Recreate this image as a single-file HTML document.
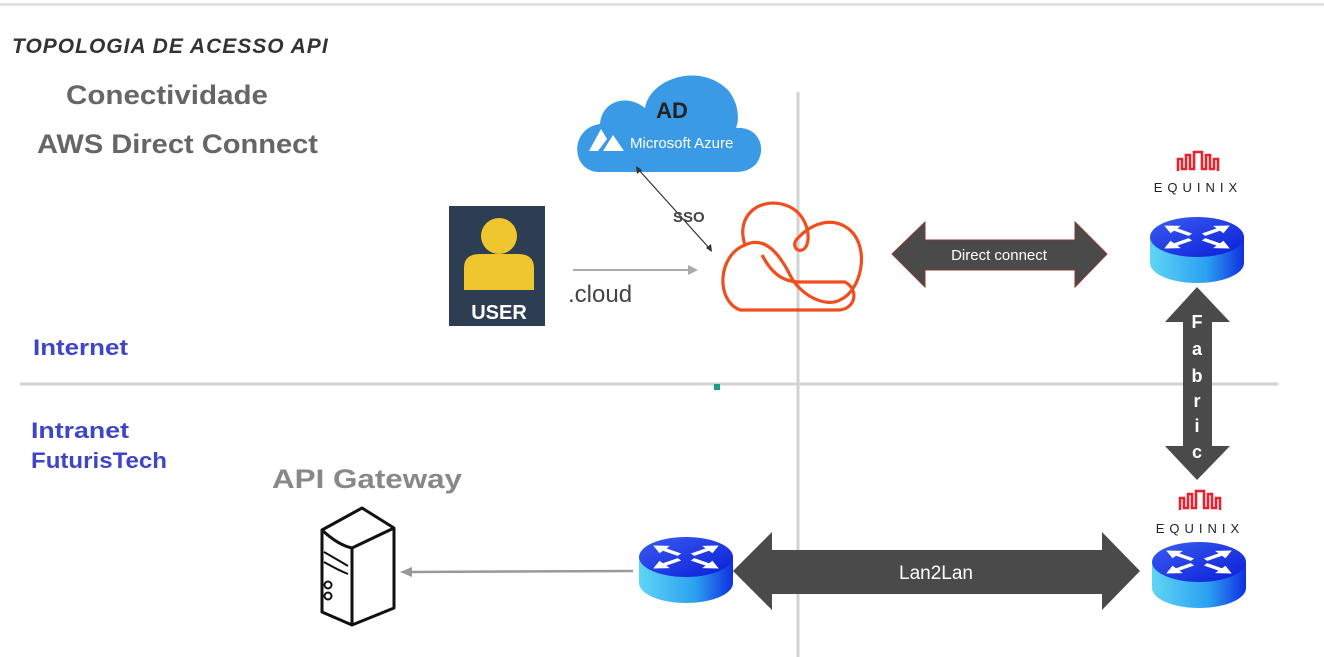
<!DOCTYPE html>
<html><head><meta charset="utf-8"><style>
html,body{margin:0;padding:0;background:#fff;}
svg{display:block;}
text{font-family:"Liberation Sans","DejaVu Sans",sans-serif;}
</style></head><body>
<svg width="1324" height="657" viewBox="0 0 1324 657" xmlns="http://www.w3.org/2000/svg">
<defs>
<linearGradient id="rtop" x1="0" y1="0" x2="1" y2="1">
<stop offset="0" stop-color="#3a5cf0"/><stop offset="1" stop-color="#0a1ed8"/></linearGradient>
<linearGradient id="rside" x1="0" y1="0" x2="1" y2="0">
<stop offset="0" stop-color="#5fd6f5"/><stop offset="0.6" stop-color="#2aa0f0"/><stop offset="1" stop-color="#1030e0"/></linearGradient>
<path id="rarr" d="M8,-3 L26,-3 L26,-9 L40,0 L26,9 L26,3 L8,3 Z" fill="#fff"/>
<g id="router">
<path d="M-47,0 L-47,26 A47,20 0 0 0 47,26 L47,0 Z" fill="url(#rside)"/>
<ellipse cx="0" cy="0" rx="47" ry="20" fill="url(#rtop)"/>
<g transform="scale(1,0.5)">
<use href="#rarr" transform="rotate(-35)"/>
<use href="#rarr" transform="rotate(-145)"/>
<use href="#rarr" transform="rotate(35)"/>
<use href="#rarr" transform="rotate(145)"/>
</g>
</g>
<g id="eqlogo">
<path d="M-20,8 L-20,-4 L-16,-4 L-16,6 L-12,6 L-12,-8 L-8,-8 L-8,6 L-4,6 L-4,-11 L4,-11 L4,6 L8,6 L8,-8 L12,-8 L12,6 L16,6 L16,-4 L20,-4 L20,8" fill="none" stroke="#e8212e" stroke-width="2.6"/>
</g>
</defs>
<rect x="0" y="0" width="1324" height="657" fill="#fff"/>
<line x1="0" y1="4.5" x2="1324" y2="4.5" stroke="#e3e3e3" stroke-width="3"/>
<line x1="798" y1="92" x2="798" y2="657" stroke="#d2d2d2" stroke-width="3"/>
<line x1="20" y1="384" x2="1278" y2="384" stroke="#d2d2d2" stroke-width="3"/>
<rect x="714" y="384" width="6" height="6" fill="#1aa080"/>
<text x="12" y="53" font-size="21" font-weight="bold" font-style="italic" fill="#333" letter-spacing="1">TOPOLOGIA DE ACESSO API</text>
<text x="66" y="104" font-size="27" font-weight="bold" fill="#666" textLength="202" lengthAdjust="spacingAndGlyphs">Conectividade</text>
<text x="37" y="153" font-size="27" font-weight="bold" fill="#666" textLength="281" lengthAdjust="spacingAndGlyphs">AWS Direct Connect</text>
<text x="33" y="355" font-size="22" font-weight="bold" fill="#3f45c8" textLength="95" lengthAdjust="spacingAndGlyphs">Internet</text>
<text x="31" y="438" font-size="22" font-weight="bold" fill="#3f45c8" textLength="98" lengthAdjust="spacingAndGlyphs">Intranet</text>
<text x="31" y="468" font-size="22" font-weight="bold" fill="#3f45c8" textLength="136" lengthAdjust="spacingAndGlyphs">FuturisTech</text>
<text x="272" y="488" font-size="27" font-weight="bold" fill="#888" textLength="190" lengthAdjust="spacingAndGlyphs">API Gateway</text>
<path d="M598,172 C570,170 570,128 600,124 C602,100 628,94 645,108 C650,78 700,62 728,90 C738,102 740,118 736,128 C758,126 768,148 756,164 C750,170 744,172 735,172 Z" fill="#3a9ae6"/>
<text x="672" y="118" font-size="22" font-weight="bold" fill="#222" text-anchor="middle">AD</text>
<path d="M589,151 L601,129 L607,139 L598,151 Z M603,151 L613,135 L624,151 Z" fill="#fff"/>
<text x="630" y="148" font-size="15" fill="#fff">Microsoft Azure</text>
<line x1="638" y1="169" x2="710" y2="249" stroke="#333" stroke-width="1.2"/>
<path d="M636,166 L637,174 L642,170 Z M712,252 L711,244 L706,248 Z" fill="#333"/>
<text x="673" y="222" font-size="15" font-weight="bold" fill="#444">SSO</text>
<rect x="449" y="206" width="96" height="120" fill="#2d3d52"/>
<circle cx="499" cy="236" r="18" fill="#f0c62e"/>
<path d="M464,290 L464,268 Q464,254 480,254 L518,254 Q534,254 534,268 L534,290 Z" fill="#f0c62e"/>
<text x="499" y="319" font-size="20" font-weight="bold" fill="#fff" text-anchor="middle">USER</text>
<line x1="573" y1="270" x2="690" y2="270" stroke="#aaa" stroke-width="2"/>
<path d="M698,270 L688,265 L688,275 Z" fill="#aaa"/>
<text x="568" y="302" font-size="24" fill="#444">.cloud</text>
<g fill="none" stroke="#f04e1e" stroke-width="3.2">
<path d="M745,245 C735,215 760,197 785,205 C808,212 812,240 805,248 C798,255 790,245 798,238 C805,230 828,212 850,230 C870,248 862,290 840,300 C825,308 800,295 790,275 C780,255 765,235 745,245 C718,255 715,300 740,310 L838,310 C855,310 860,290 845,282 L800,282 C780,282 770,270 762,255"/>
</g>
<path d="M892,254 L925,222 L925,240 L1075,240 L1075,222 L1107,254 L1075,287 L1075,270 L925,270 L925,287 Z" fill="#4a4a4a" stroke="#8a3a30" stroke-width="1"/>
<text x="999" y="260" font-size="15" fill="#fff" text-anchor="middle">Direct connect</text>
<use href="#eqlogo" x="1198" y="163"/>
<text x="1198" y="192" font-size="13" fill="#222" text-anchor="middle" letter-spacing="5">EQUINIX</text>
<use href="#router" x="1197" y="237"/>
<path d="M1197,287 L1230,322 L1212,322 L1212,446 L1230,446 L1197,480 L1165,446 L1183,446 L1183,322 L1165,322 Z" fill="#4a4a4a"/>
<g font-size="18" font-weight="bold" fill="#fff" text-anchor="middle">
<text x="1197" y="328">F</text><text x="1197" y="355">a</text><text x="1197" y="382">b</text>
<text x="1197" y="407">r</text><text x="1197" y="432">i</text><text x="1197" y="458">c</text>
</g>
<use href="#eqlogo" x="1200" y="502"/>
<text x="1200" y="533" font-size="13" fill="#222" text-anchor="middle" letter-spacing="5">EQUINIX</text>
<use href="#router" x="1199" y="562"/>
<path d="M733,571 L772,532 L772,550 L1102,550 L1102,532 L1140,571 L1102,610 L1102,594 L772,594 L772,610 Z" fill="#4a4a4a"/>
<text x="936" y="579" font-size="19" fill="#fff" text-anchor="middle">Lan2Lan</text>
<use href="#router" x="686" y="557"/>
<line x1="633" y1="571" x2="410" y2="572" stroke="#999" stroke-width="2.5"/>
<path d="M400,572 L412,567 L412,577 Z" fill="#999"/>
<g fill="none" stroke="#111" stroke-width="3" stroke-linejoin="round">
<path d="M322,530 L362,508 L394,528 L394,608 L352,625 L322,612 Z"/>
<path d="M322,530 Q338,545 352,548 L394,528"/>
<line x1="352" y1="548" x2="352" y2="625"/>
<path d="M324,552 Q338,560 348,566" stroke-width="2"/>
<path d="M324,562 Q338,570 348,574" stroke-width="2"/>
<circle cx="328" cy="585" r="3.5" stroke-width="2"/>
<circle cx="328" cy="596" r="3.5" stroke-width="2"/>
</g>
</svg>
</body></html>
